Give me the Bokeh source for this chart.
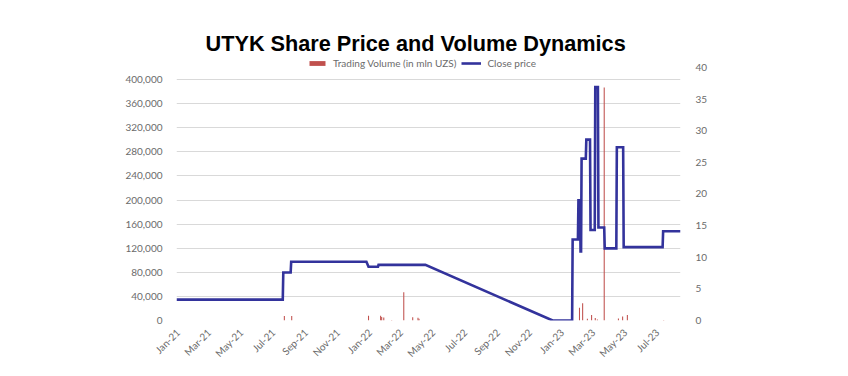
import datetime as dt
from bokeh.plotting import figure
from bokeh.models import (ColumnDataSource, Range1d, LinearAxis, FixedTicker,
                          NumeralTickFormatter, DatetimeTickFormatter, Legend, LegendItem)
from bokeh.embed import file_html
from bokeh.resources import INLINE
import math

# ---- data ----
price_dates = ["2020-12-29", "2021-07-19", "2021-07-20", "2021-08-03", "2021-08-04",
               "2021-12-25", "2021-12-29", "2022-01-16", "2022-01-17", "2022-04-16",
               "2022-12-14", "2023-01-20", "2023-01-21", "2023-01-31", "2023-02-01",
               "2023-02-04", "2023-02-05", "2023-02-06", "2023-02-07", "2023-02-15",
               "2023-02-16", "2023-02-23", "2023-02-24", "2023-03-04", "2023-03-05",
               "2023-03-10", "2023-03-11", "2023-03-22", "2023-03-23", "2023-04-14",
               "2023-04-15", "2023-04-27", "2023-04-28", "2023-07-11", "2023-07-12",
               "2023-08-14"]
price_values = [3.3, 3.3, 7.6, 7.6, 9.3,
                9.3, 8.5, 8.5, 8.8, 8.8,
                0.0, 0.0, 12.8, 12.8, 19.0,
                19.0, 10.9, 10.9, 25.6, 25.6,
                28.6, 28.6, 14.3, 14.3, 36.9,
                36.9, 14.7, 14.7, 11.4, 11.4,
                27.4, 27.4, 11.6, 11.6, 14.1,
                14.1]

volume_dates = ["2021-07-22", "2021-08-05", "2021-12-29", "2022-01-21", "2022-01-23",
                "2022-01-27", "2022-02-11", "2022-03-06", "2022-03-23", "2022-04-02",
                "2022-04-04", "2023-02-03", "2023-02-09", "2023-02-18", "2023-02-26",
                "2023-03-05", "2023-03-09", "2023-03-22", "2023-04-18", "2023-04-26",
                "2023-05-05", "2023-07-13"]
volume_values = [7500, 7500, 7800, 8000, 6000,
                 5000, 1000, 47000, 5500, 4500,
                 3000, 21000, 28500, 3000, 9000,
                 4000, 1500, 387000, 3500, 6500,
                 9000, 800]

x_tick_labels = ["Jan-21", "Mar-21", "May-21", "Jul-21", "Sep-21", "Nov-21",
                 "Jan-22", "Mar-22", "May-22", "Jul-22", "Sep-22", "Nov-22",
                 "Jan-23", "Mar-23", "May-23", "Jul-23"]
left_ticks = list(range(0, 400001, 40000))
right_ticks = list(range(0, 41, 5))

# ---- helpers ----
def to_dt(s):
    return dt.datetime.strptime(s, "%Y-%m-%d")

def to_ms(d):
    return (d - dt.datetime(1970, 1, 1)).total_seconds() * 1000.0

price_src = ColumnDataSource(dict(x=[to_dt(s) for s in price_dates], y=price_values))
vol_src = ColumnDataSource(dict(x=[to_dt(s) for s in volume_dates], y=volume_values))

x_ticks = [to_ms(dt.datetime.strptime(l, "%b-%y")) for l in x_tick_labels]

FONT = "Lato"
LABEL_COLOR = "#6b6b6b"

# frame spans 57..320 px; the axes' visible scales reach 67 px, legend sits above that
p = figure(width=848, height=376, x_axis_type="datetime", output_backend="svg",
           toolbar_location=None, tools="",
           x_range=Range1d(to_dt("2020-12-29"), to_dt("2023-08-14")),
           y_range=Range1d(0, 436600),
           min_border_left=176, min_border_right=168, min_border_top=57,
           min_border_bottom=56)
p.extra_y_ranges = {"right": Range1d(0, 41.58)}
p.outline_line_color = None
p.background_fill_color = "white"
p.border_fill_color = "white"

# title
p.title.text = "UTYK Share Price and Volume Dynamics"
p.title.text_font = "Liberation Sans"
p.title.text_font_style = "bold"
p.title.text_font_size = "21.7px"
p.title.text_color = "#000000"
p.title.align = "left"
p.title.offset = 29
p.title.standoff = 4

# grids
p.xgrid.visible = False
p.ygrid.ticker = FixedTicker(ticks=left_ticks)
p.ygrid.grid_line_color = "#d9d9d9"
p.ygrid.grid_line_width = 1

# glyphs
bars = p.vbar(x="x", top="y", width=2 * 86400000, source=vol_src,
              fill_color="#C0504D", line_color=None)
line = p.line(x="x", y="y", source=price_src, y_range_name="right",
              line_color="#33339c", line_width=2.6, line_join="miter")

# axes
xa = p.xaxis[0]
xa.ticker = FixedTicker(ticks=x_ticks)
xa.formatter = DatetimeTickFormatter(days="%b-%y", months="%b-%y", years="%b-%y")
xa.major_label_orientation = math.pi / 4
xa.axis_line_color = None
xa.major_tick_line_color = None
xa.minor_tick_line_color = None
xa.major_label_standoff = 4

ya = p.yaxis[0]
ya.ticker = FixedTicker(ticks=left_ticks)
ya.formatter = NumeralTickFormatter(format="0,0")
ya.axis_line_color = None
ya.major_tick_line_color = None
ya.minor_tick_line_color = None
ya.major_label_standoff = 8

ra = LinearAxis(y_range_name="right", ticker=FixedTicker(ticks=right_ticks))
ra.axis_line_color = None
ra.major_tick_line_color = None
ra.minor_tick_line_color = None
ra.major_label_standoff = 9
p.add_layout(ra, "right")

for ax in (xa, ya, ra):
    ax.major_label_text_font = FONT
    ax.major_label_text_font_size = "10px"
    ax.major_label_text_color = LABEL_COLOR

# legend
legend = Legend(items=[LegendItem(label="Trading Volume (in mln UZS)", renderers=[bars]),
                       LegendItem(label="Close price", renderers=[line])],
                orientation="horizontal", location=(131, 251),
                label_text_font=FONT, label_text_font_size="10px",
                label_text_color=LABEL_COLOR, glyph_width=20, glyph_height=6,
                label_height=10, label_standoff=6, spacing=5, padding=0, margin=0,
                background_fill_alpha=0, border_line_alpha=0)
p.add_layout(legend, "center")

open("out.html", "w").write(file_html(p, INLINE))
